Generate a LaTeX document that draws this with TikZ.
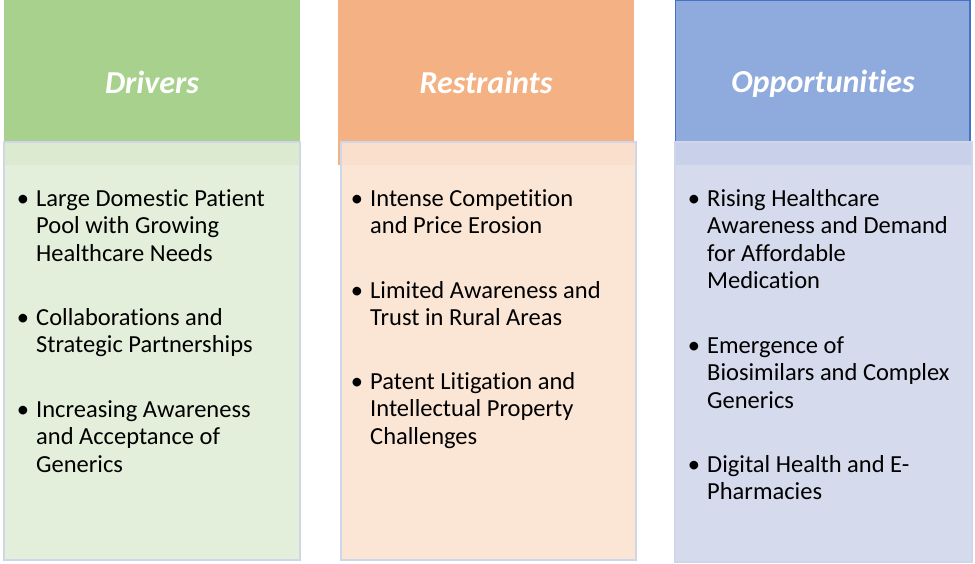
\documentclass[tikz,border=0pt]{standalone}
\usepackage{fontspec}
\setmainfont[Ligatures=NoCommon]{Carlito}
\definecolor{gH}{HTML}{A9D18E}\definecolor{gB}{HTML}{E3EFDA}\definecolor{gS}{HTML}{DCEAD0}
\definecolor{oH}{HTML}{F4B183}\definecolor{oB}{HTML}{FBE6D6}\definecolor{oS}{HTML}{F9DFCC}
\definecolor{bH}{HTML}{8FAADC}\definecolor{bB}{HTML}{D5DAEC}\definecolor{bS}{HTML}{C9D1EA}
\definecolor{bL}{HTML}{4472C4}\definecolor{lav}{HTML}{D0D6EA}
\begin{document}
\begin{tikzpicture}[x=1pt,y=-1pt,
 head/.style={text=white,font=\fontsize{32}{36}\selectfont\bfseries\itshape},
 item/.style={anchor=north west,align=left,inner sep=0,yshift=19.25pt,font=\fontsize{24.5}{27.5}\selectfont},
 bul/.style={anchor=base,inner sep=0,font=\fontsize{24.5}{27.5}\selectfont}]
\useasboundingbox (0,0) rectangle (975,563);
% headers
\fill[gH] (4,0) rectangle (300,165);
\fill[oH] (338,0) rectangle (634,165);
\filldraw[fill=bH,draw=bL,line width=1.2] (675.5,0.6) rectangle (970,165);
% bodies
\filldraw[fill=gB,draw=lav,line width=1.5] (4,142) rectangle (300,560);
\fill[gS] (4.8,142.8) rectangle (299.2,165);
\filldraw[fill=oB,draw=lav,line width=1.5] (341,142) rectangle (636,560);
\fill[oS] (341.8,142.8) rectangle (635.2,165);
\filldraw[fill=bB,draw=lav,line width=1.5] (675,142) rectangle (972,562);
\fill[bS] (675.8,142.8) rectangle (971.2,165);
\node[head] (hd) at (152,82) {Drivers};
\node[head] (hr) at (486,82) {Restraints};
\node[head] (ho) at (823,84) {Opportunities};
% Drivers
\node[bul] (d1b) at (23,206) {•};\node[item] (d1) at (36,206) {\strut Large Domestic Patient\\Pool with Growing\\Healthcare Needs};
\node[bul] (d2b) at (23,325) {•};\node[item] (d2) at (36,325) {\strut Collaborations and\\Strategic Partnerships};
\node[bul] (d3b) at (23,417) {•};\node[item] (d3) at (36,417) {\strut Increasing Awareness\\and Acceptance of\\Generics};
% Restraints
\node[bul] (r1b) at (357,206) {•};\node[item] (r1) at (370,206) {\strut Intense Competition\\and Price Erosion};
\node[bul] (r2b) at (357,298) {•};\node[item] (r2) at (370,298) {\strut Limited Awareness and\\Trust in Rural Areas};
\node[bul] (r3b) at (357,389) {•};\node[item] (r3) at (370,389) {\strut Patent Litigation and\\Intellectual Property\\Challenges};
% Opportunities
\node[bul] (o1b) at (694,206) {•};\node[item] (o1) at (707,206) {\strut Rising Healthcare\\Awareness and Demand\\for Affordable\\Medication};
\node[bul] (o2b) at (694,353) {•};\node[item] (o2) at (707,353) {\strut Emergence of\\Biosimilars and Complex\\Generics};
\node[bul] (o3b) at (694,472) {•};\node[item] (o3) at (707,472) {\strut Digital Health and E-\\Pharmacies};
\end{tikzpicture}
\end{document}
